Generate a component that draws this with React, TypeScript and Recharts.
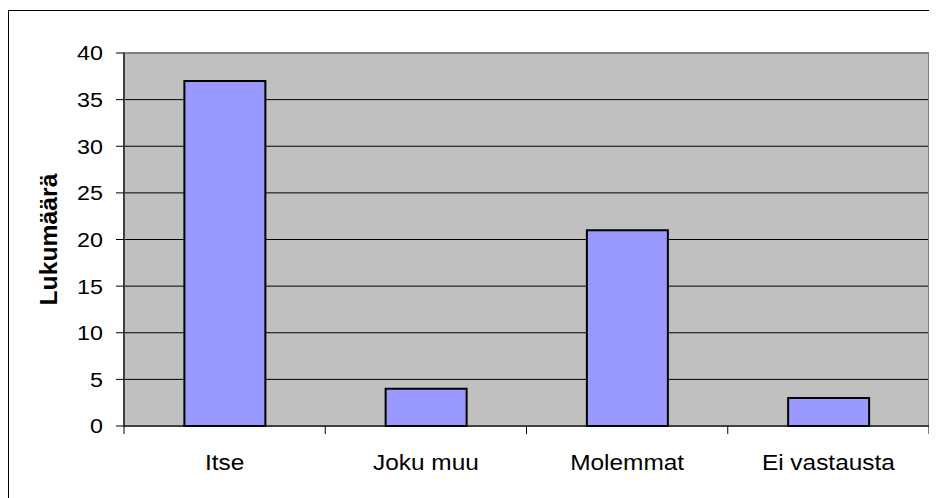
import React from 'react';
import { BarChart, Bar, XAxis, YAxis, CartesianGrid, ReferenceArea, Label } from 'recharts';

const categories = ['Itse', 'Joku muu', 'Molemmat', 'Ei vastausta'];
const counts = [37, 4, 21, 3];
const yTicks = [0, 5, 10, 15, 20, 25, 30, 35, 40];
const yLabel = 'Lukumäärä';

const data = categories.map((c, i) => ({ name: c, value: counts[i] }));

const W = 929;
const H = 490;
const margin = { top: 45, right: 8, bottom: 12, left: 0 };
const Y_W = 116;
const X_H = 60;
const FONT = '"Liberation Sans", Arial, sans-serif';
const FS = 22;
const SX = 1.11;

const plotW = W - margin.left - margin.right - Y_W;
const bandW = plotW / categories.length;

const XTick = (props: any) => {
  const { x, payload, index } = props;
  const axisY = H - margin.bottom - X_H;
  return (
    <g>
      <line x1={x - bandW / 2} x2={x - bandW / 2} y1={axisY} y2={axisY + 8} stroke="#000" strokeWidth={1} />
      {index === categories.length - 1 && (
        <line x1={x + bandW / 2} x2={x + bandW / 2} y1={axisY} y2={axisY + 8} stroke="#000" strokeWidth={1} />
      )}
      <g transform={`translate(${x}, ${axisY + 44}) scale(${SX}, 1)`}>
        <text x={0} y={0} textAnchor="middle" fill="#000" fontSize={FS} fontFamily={FONT}>
          {payload.value}
        </text>
      </g>
    </g>
  );
};

const YTick = (props: any) => {
  const { x, y, payload } = props;
  return (
    <g transform={`translate(${x}, ${y}) scale(${SX}, 1)`}>
      <text x={0} y={0} dy="0.355em" textAnchor="end" fill="#000" fontSize={FS - 1} fontFamily={FONT}>
        {payload.value}
      </text>
    </g>
  );
};

const YLab = (props: any) => {
  const vb = props.viewBox || {};
  const cy = (vb.y ?? margin.top) + (vb.height ?? 0) / 2;
  const cx = 41;
  return (
    <text
      x={cx}
      y={cy}
      transform={`rotate(-90, ${cx}, ${cy})`}
      textAnchor="middle"
      dominantBaseline="central"
      fontWeight="bold"
      fontSize={23}
      fontFamily={FONT}
      fill="#000"
      textLength={132}
      lengthAdjust="spacingAndGlyphs"
    >
      {yLabel}
    </text>
  );
};

export default function App() {
  return (
    <div style={{ position: 'relative', width: W, height: H }}>
      <div
        style={{
          position: 'absolute',
          left: 0,
          top: 2,
          width: W,
          height: H - 2,
          borderTop: '1px solid #000',
          borderLeft: '1px solid #000',
          boxSizing: 'border-box',
        }}
      />
      <div style={{ position: 'absolute', left: 0, top: 0 }}>
        <BarChart width={W} height={H} data={data} margin={margin} barCategoryGap="30%">
          <CartesianGrid vertical={false} horizontal={true} stroke="#000" strokeWidth={1} fill="#C0C0C0" fillOpacity={1} />
          <XAxis
            dataKey="name"
            height={X_H}
            tickLine={false}
            axisLine={{ stroke: '#000', strokeWidth: 1 }}
            tick={<XTick />}
            interval={0}
          />
          <YAxis
            width={Y_W}
            domain={[0, 40]}
            ticks={yTicks}
            interval={0}
            tickSize={8}
            tickMargin={13}
            tickLine={{ stroke: '#000' }}
            axisLine={{ stroke: '#000' }}
            tick={<YTick />}
          >
            <Label content={<YLab />} />
          </YAxis>
          <ReferenceArea y1={0} y2={40} fill="none" stroke="#808080" strokeWidth={2} ifOverflow="visible" />
          <Bar dataKey="value" fill="#9999FF" stroke="#000" strokeWidth={2} isAnimationActive={false} />
        </BarChart>
      </div>
    </div>
  );
}
